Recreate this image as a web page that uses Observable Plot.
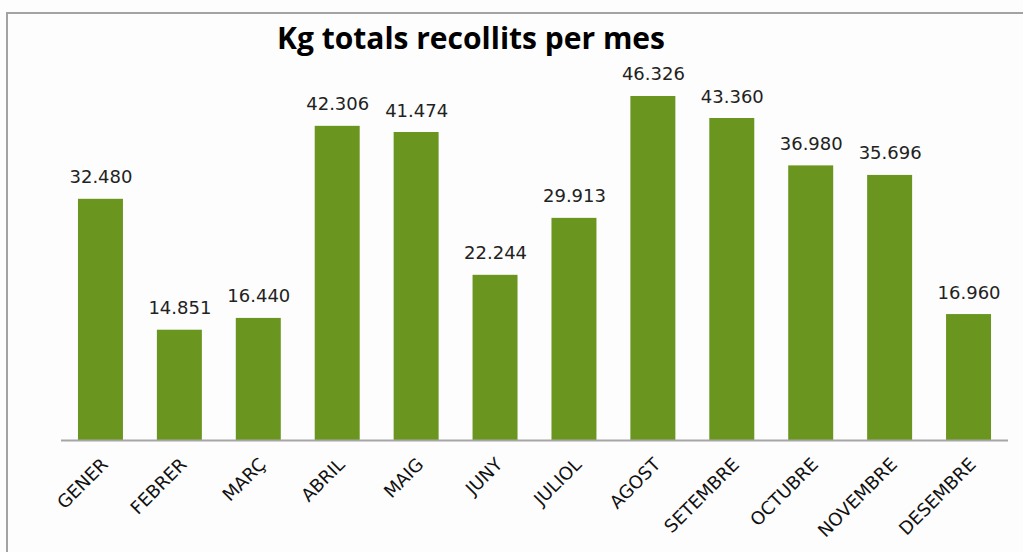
<!DOCTYPE html>
<html>
<head>
<meta charset="utf-8">
<script src="https://cdn.jsdelivr.net/npm/d3@7"></script>
<script src="https://cdn.jsdelivr.net/npm/@observablehq/plot@0.6"></script>
<style>
  html, body { margin: 0; padding: 0; background: #fdfdfd; }
  #wrap { position: relative; width: 1023px; height: 552px; overflow: hidden; background: #fdfdfd; }
  #frame { position: absolute; left: 6px; top: 12px; width: 1100px; height: 600px;
           border-left: 2px solid #a3a3a3; border-top: 2px solid #a3a3a3; }
  #title { position: absolute; left: 0; width: 942px; top: 21px; text-align: center;
           font-family: "Open Sans", sans-serif; font-weight: bold; font-size: 30px; line-height: 34px; color: #000; }
  #chart { position: absolute; left: 0; top: 0; }
</style>
</head>
<body>
<div id="wrap">
  <div id="frame"></div>
  <div id="chart"></div>
  <div id="title">Kg totals recollits per mes</div>
</div>
<script>
const months = ["GENER","FEBRER","MARÇ","ABRIL","MAIG","JUNY","JULIOL","AGOST","SETEMBRE","OCTUBRE","NOVEMBRE","DESEMBRE"];
const kg = [32480, 14851, 16440, 42306, 41474, 22244, 29913, 46326, 43360, 36980, 35696, 16960];

const data = months.map((m, i) => ({month: m, kg: kg[i]}));
const fmt = d3.formatLocale({decimal: ",", thousands: ".", grouping: [3], currency: ["", " €"]}).format(",d");

const chart = Plot.plot({
  width: 1023,
  height: 552,
  marginLeft: 61,
  marginRight: 15,
  marginTop: 68.7,
  marginBottom: 112,
  style: {background: "transparent", overflow: "visible"},
  x: {domain: months, paddingInner: 0.43, paddingOuter: 0.215, round: false, label: null},
  y: {domain: [0, 50000], axis: null},
  marks: [
    Plot.barY(data, {x: "month", y: "kg", fill: "#6a961f"}),
    Plot.ruleY([0], {stroke: "#a6a6a6", strokeWidth: 2}),
    Plot.text(data, {x: "month", y: "kg", text: d => fmt(d.kg), dy: -16, lineAnchor: "bottom",
      fontFamily: "DejaVu Sans", fontSize: 18, fill: "#222"}),
    Plot.axisX({tickSize: 0, tickPadding: 21, dx: 4, tickRotate: -45, fontFamily: "DejaVu Sans", fontSize: 18, color: "#111", label: null})
  ]
});
document.getElementById("chart").appendChild(chart);
</script>
</body>
</html>
